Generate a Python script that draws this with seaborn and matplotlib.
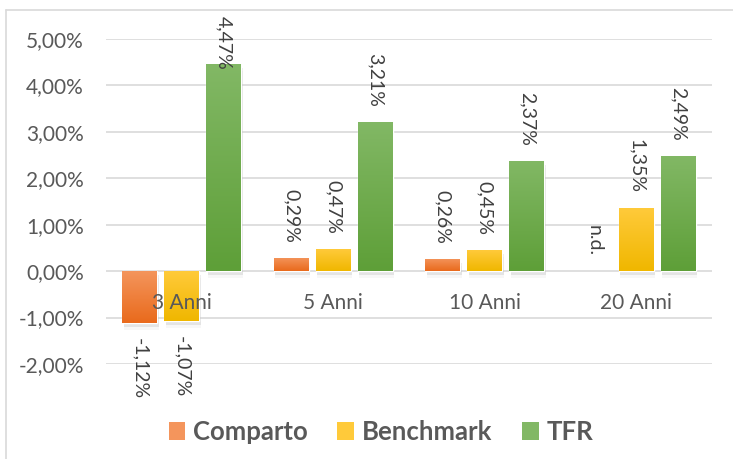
"""Rendimenti medi annui: Comparto vs Benchmark vs TFR (grafico a barre stile Excel)."""

import matplotlib

matplotlib.use("Agg")

import matplotlib.pyplot as plt
from matplotlib import patheffects
from matplotlib.colors import LinearSegmentedColormap
from matplotlib.lines import Line2D
from matplotlib.patches import Patch
from matplotlib.ticker import FuncFormatter, MultipleLocator
import numpy as np
import pandas as pd
import seaborn as sns


PERIODI = ["3 Anni", "5 Anni", "10 Anni", "20 Anni"]
SERIE = ["Comparto", "Benchmark", "TFR"]
COMPARTO = [-1.12, 0.29, 0.26, np.nan]
BENCHMARK = [-1.07, 0.47, 0.45, 1.35]
TFR = [4.47, 3.21, 2.37, 2.49]

COLORI = {"Comparto": "#ED7D31", "Benchmark": "#FFC000", "TFR": "#70AD47"}
GRADIENTI = {
    "Comparto": ("#F4955C", "#E96A1C"),
    "Benchmark": ("#FFCA3A", "#F0B700"),
    "TFR": ("#82B865", "#5E9F38"),
}
GRIGIO_TESTO = "#595959"
GRIGIO_GRIGLIA = "#D9D9D9"

BAR_WIDTH = 0.832
BAR_GAP = 0.167
LABEL_CAP = 4.0


def virgola(value: float) -> str:
    return f"{value:.2f}%".replace(".", ",")


def main() -> None:
    sns.set_theme(style="white")
    plt.rcParams["font.family"] = ["Lato", "DejaVu Sans"]

    dati = pd.DataFrame(
        {
            "periodo": PERIODI * 3,
            "serie": np.repeat(SERIE, len(PERIODI)),
            "valore": COMPARTO + BENCHMARK + TFR,
        }
    )

    fig = plt.figure(figsize=(7.33, 4.59), dpi=100)
    ax = fig.add_axes([106 / 733, 1 - 364 / 459, 606 / 733, 325 / 459])

    sns.barplot(
        data=dati,
        x="periodo",
        y="valore",
        hue="serie",
        order=PERIODI,
        hue_order=SERIE,
        palette=COLORI,
        width=BAR_WIDTH,
        gap=BAR_GAP,
        errorbar=None,
        legend=False,
        ax=ax,
        zorder=3,
    )

    # sfumatura verticale e ombra morbida sotto le barre
    for serie, container in zip(SERIE, ax.containers):
        cmap = LinearSegmentedColormap.from_list(serie, [GRADIENTI[serie][1], GRADIENTI[serie][0]])
        for patch in container:
            if not np.isfinite(patch.get_height()) or patch.get_height() == 0:
                continue
            patch.set_path_effects(
                [
                    patheffects.SimplePatchShadow(offset=(1, -3), shadow_rgbFace="#8C8C8C", alpha=0.18),
                    patheffects.SimplePatchShadow(offset=(1, -5), shadow_rgbFace="#BFBFBF", alpha=0.12),
                    patheffects.Normal(),
                ]
            )
            x0, y0 = patch.get_x(), patch.get_y()
            x1, y1 = x0 + patch.get_width(), y0 + patch.get_height()
            lo, hi = min(y0, y1), max(y0, y1)
            image = ax.imshow(
                np.linspace(0, 1, 100).reshape(-1, 1),
                cmap=cmap,
                extent=(x0, x1, lo, hi),
                origin="lower",
                aspect="auto",
                zorder=3.5,
            )
            image.set_clip_path(patch)

    ax.set_xlim(-0.5, len(PERIODI) - 0.5)
    ax.set_ylim(-2, 5)
    ax.yaxis.set_major_locator(MultipleLocator(1))
    ax.yaxis.set_major_formatter(FuncFormatter(lambda v, _: virgola(v)))
    ax.grid(axis="y", color=GRIGIO_GRIGLIA, linewidth=1.2, zorder=0)
    ax.set_axisbelow(True)
    for spine in ax.spines.values():
        spine.set_visible(False)
    ax.set_xlabel("")
    ax.set_ylabel("")
    ax.set_xticks(range(len(PERIODI)))
    ax.set_xticklabels([])
    ax.tick_params(axis="x", length=0)
    ax.tick_params(axis="y", length=0, pad=16, labelsize=15, labelcolor=GRIGIO_TESTO)

    # etichette di categoria sopra le barre, vicino allo zero (come in Excel)
    for i, periodo in enumerate(PERIODI):
        ax.annotate(
            periodo,
            xy=(i, 0),
            xytext=(0, -23),
            textcoords="offset points",
            ha="center",
            va="center",
            fontsize=15,
            color=GRIGIO_TESTO,
            zorder=6,
        )

    # etichette dati ruotate
    step = BAR_WIDTH / len(SERIE)
    valori = {"Comparto": COMPARTO, "Benchmark": BENCHMARK, "TFR": TFR}
    for j, serie in enumerate(SERIE):
        for i, valore in enumerate(valori[serie]):
            x = i + (j - 1) * step
            if np.isnan(valore):
                testo, y, dy, va = "n.d.", 0.0, 11, "bottom"
            elif valore >= 0:
                testo, y, dy, va = virgola(valore), min(valore, LABEL_CAP), 11, "bottom"
            else:
                testo, y, dy, va = virgola(valore), valore, -11, "top"
            ax.annotate(
                testo,
                xy=(x, y),
                xytext=(0, dy),
                textcoords="offset points",
                rotation=270,
                ha="center",
                va=va,
                fontsize=14,
                color="#404040",
                annotation_clip=False,
                zorder=5,
            )

    handles = [Patch(facecolor=GRADIENTI[s][0], edgecolor="none", label=s) for s in SERIE]
    fig.legend(
        handles=handles,
        loc="center",
        bbox_to_anchor=(381 / 733, 1 - 432 / 459),
        ncol=3,
        frameon=False,
        prop={"weight": "bold", "size": 18.5},
        labelcolor=GRIGIO_TESTO,
        handlelength=0.66,
        handleheight=0.66,
        handletextpad=0.3,
        columnspacing=1.15,
    )

    # cornice dell'area grafico (solo bordo superiore e sinistro visibili)
    fig.add_artist(Line2D([6 / 733, 1], [1 - 10 / 459] * 2, color=GRIGIO_GRIGLIA, linewidth=1.2))
    fig.add_artist(Line2D([6 / 733] * 2, [0, 1 - 10 / 459], color=GRIGIO_GRIGLIA, linewidth=1.2))

    fig.savefig("out.png", dpi=100)
    plt.close(fig)


if __name__ == "__main__":
    main()
